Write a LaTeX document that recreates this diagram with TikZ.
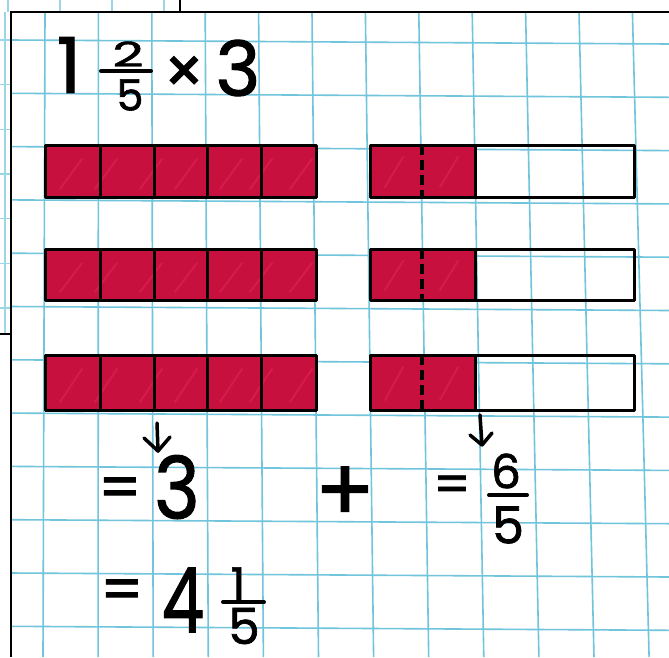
\documentclass[tikz,border=0pt]{standalone}
\usepackage{fontspec}
\setmainfont{Poppins}[FakeBold=1.4,AutoFakeBold=1.4]
\usetikzlibrary{arrows.meta}
\definecolor{gridblue}{RGB}{112,196,220}
\definecolor{crimson}{RGB}{200,16,62}
\definecolor{streak}{RGB}{232,40,95}
\begin{document}
\begin{tikzpicture}[x=1pt,y=-1pt,
  gridline/.style={gridblue, line width=1.6pt},
  bggrid/.style={gridblue!70, line width=1.2pt},
  barbox/.style={draw=black, line width=3pt, line join=round},
  redfill/.style={fill=crimson},
  streaks/.style={streak, line width=2pt, opacity=0.45, line cap=round},
  divline/.style={black, line width=3pt},
  dashdiv/.style={black, line width=3.5pt, dash pattern=on 10pt off 5pt},
  digit/.style={inner sep=0pt, text=black, font=\bfseries},
  fracbar/.style={black, line width=4pt, line cap=round},
  arr/.style={black, line width=3.5pt, line cap=round, line join=round}]
\useasboundingbox (0,0) rectangle (669,657);
\fill[white] (0,0) rectangle (669,657);
% background layer
\foreach \x in {8,60,112,164} \draw[bggrid] (\x,0) -- (\x,12);
\draw[bggrid] (5,12) -- (5,334);
\foreach \y in {40,84.7,129.4,174,218.8,263.5,308} \draw[bggrid] (0,\y) -- (11,\y);
\draw[black, line width=2pt] (180,0) -- (180,12);
\draw[black, line width=2pt] (0,334) -- (11,334);
% foreground sheet
\fill[white] (11,12) rectangle (669,657);
\foreach \k in {0,...,11} \draw[gridline] ({45+53.4*\k},12) -- ({43+55.1*\k},657);
\foreach \k in {0,...,11} \draw[gridline] (11,{40+53.3*\k}) -- (669,{44+53.3*\k});
\draw[black, line width=2.5pt] (11,657) -- (11,12) -- (669,12);
% bars
\foreach \t/\b in {145/197, 249/300, 355/410} {
  \fill[crimson] (45,\t) rectangle (316,\b);
  \begin{scope}
    \clip (45,\t) rectangle (316,\b);
    \foreach \s in {60,95,140,175,220,250,290} \draw[streaks] (\s,\b-8) -- (\s+22,\t+14);
  \end{scope}
  \draw[barbox] (45,\t) rectangle (316,\b);
  \foreach \x in {100,154,207,261} \draw[divline] (\x,\t) -- (\x,\b);
  \fill[crimson] (370,\t) rectangle (475,\b);
  \begin{scope}
    \clip (370,\t) rectangle (475,\b);
    \foreach \s in {385,440} \draw[streaks] (\s,\b-10) -- (\s+18,\t+12);
  \end{scope}
  \draw[barbox] (370,\t) rectangle (634,\b);
  \draw[divline] (475,\t) -- (475,\b);
  \draw[dashdiv] (422,\t) -- (422,\b);
}
% top expression
\node[digit, font=\fontsize{77}{77}\selectfont\bfseries] (one) at (69,65) {1};
\node[digit, font=\fontsize{34}{34}\selectfont\bfseries, xscale=1.6] (twonum) at (128,54) {2};
\draw[fracbar] (101,71) -- (151,71);
\node[digit, font=\fontsize{43}{43}\selectfont\bfseries] (fiveden) at (130,95) {5};
\node[digit, font=\fontsize{64}{64}\selectfont\bfseries] (times) at (184,75) {×};
\node[digit, font=\fontsize{76}{76}\selectfont\bfseries] (three) at (238,68) {3};
% arrows
\coordinate (a1s) at (157,423);
\coordinate (a1e) at (158,451);
\coordinate (a2s) at (480,415);
\coordinate (a2e) at (482,445);
\draw[arr] (a1s) -- (a1e);
\draw[arr] (a1e) ++(-14,-13) -- (a1e) -- ++(12,-14);
\draw[arr] (a2s) -- (a2e);
\draw[arr] (a2e) ++(-12,-10) -- (a2e) -- ++(10,-12);
% middle line
\node[digit, font=\fontsize{60}{60}\selectfont\bfseries] (eq1) at (120,493) {=};
\node[digit, font=\fontsize{86}{86}\selectfont\bfseries, xscale=0.9] (threeb) at (177,487) {3};
\node[digit, font=\fontsize{88}{88}\selectfont] (plus) at (345,494) {+};
\node[digit, font=\fontsize{52}{52}\selectfont\bfseries] (eq2) at (452,489) {=};
\node[digit, font=\fontsize{47}{47}\selectfont\bfseries] (six) at (506,471) {6};
\draw[fracbar] (489,495) -- (527,495);
\node[digit, font=\fontsize{51}{51}\selectfont\bfseries] (fiveb) at (508,525) {5};
% bottom line
\node[digit, font=\fontsize{60}{60}\selectfont\bfseries] (eq3) at (122,595) {=};
\node[digit, font=\fontsize{90}{90}\selectfont\bfseries, xscale=0.75] (four) at (183,600) {4};
\node[digit, font=\fontsize{46}{46}\selectfont\bfseries] (oneb) at (238,584) {1};
\draw[fracbar] (223,602) -- (264,602);
\node[digit, font=\fontsize{50}{50}\selectfont\bfseries] (fivec) at (244,626) {5};
\end{tikzpicture}
\end{document}
